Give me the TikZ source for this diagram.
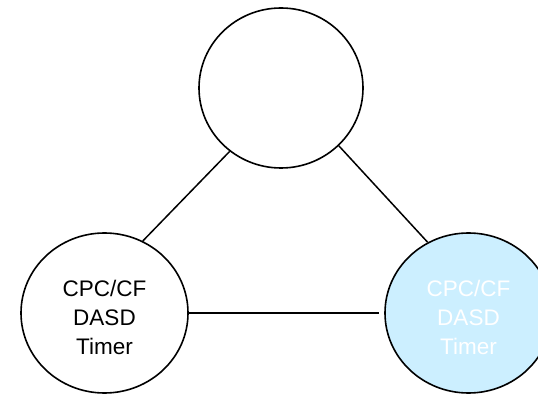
\documentclass[tikz,border=0pt]{standalone}
\usepackage{fontspec}
\setmainfont{Liberation Sans}
\usetikzlibrary{shapes.geometric}
\definecolor{sysblue}{RGB}{204,239,255}
\tikzset{
  sysnode/.style={ellipse, draw=black, line width=1.6pt, inner sep=0pt,
    minimum width=167pt, minimum height=160pt},
  syslabel/.style={align=center, inner sep=0pt,
    font=\fontsize{22.5}{29}\selectfont},
  link/.style={line width=1.5pt}
}
\begin{document}
\begin{tikzpicture}[x=1pt,y=-1pt]
  \useasboundingbox (0,0) rectangle (538,395);
  \clip (0,0) rectangle (538,395);
  % three systems
  \node[sysnode, minimum width=164pt] (top) at (281,88) {};
  \node[sysnode] (left) at (104.5,313) {};
  \node[sysnode, fill=sysblue] (right) at (468.5,313) {};
  \node[syslabel] (leftlabel) at ([yshift=-4pt]left.center) {CPC/CF\\DASD\\Timer};
  \node[syslabel, text=white] (rightlabel) at ([yshift=-4pt]right.center) {CPC/CF\\DASD\\Timer};
  % links between them
  \draw[link] (left.62) -- (top.231);
  \draw[link] (top.315) -- (right.120);
  \draw[link, shorten >=5pt] (left.east) -- (right.west);
\end{tikzpicture}
\end{document}
